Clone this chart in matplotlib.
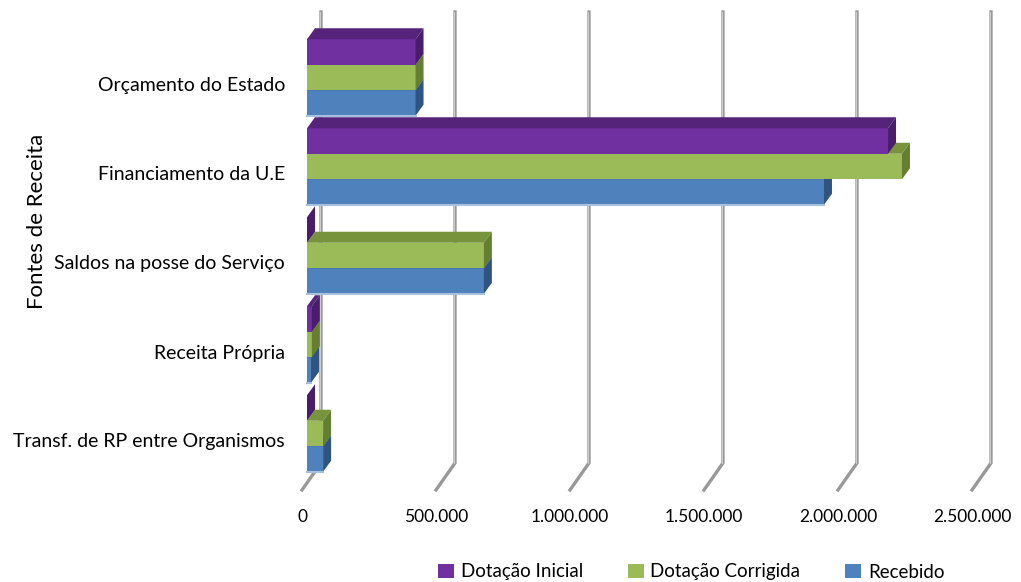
import matplotlib.pyplot as plt
from matplotlib.patches import Polygon, Patch
import numpy as np

plt.rcParams['font.family'] = ['Lato', 'DejaVu Sans']

categories = ["Orçamento do Estado", "Financiamento da U.E",
              "Saldos na posse do Serviço", "Receita Própria",
              "Transf. de RP entre Organismos"]
series_names = ["Dotação Inicial", "Dotação Corrigida", "Recebido"]
dot_inicial = [405000, 2168000, 0, 18000, 0]
dot_corrigida = [405000, 2220000, 660000, 18000, 60000]
recebido = [405000, 1929000, 660000, 15000, 60000]
xticks = [0, 500000, 1000000, 1500000, 2000000, 2500000]
xtick_labels = ["0", "500.000", "1.000.000", "1.500.000", "2.000.000", "2.500.000"]

front = ["#7030A0", "#9BBB59", "#4F81BD"]
top = ["#55237A", "#77933C", "#3B6396"]
side = ["#4A1D6C", "#647F32", "#2E5482"]

W, H = 1021, 582
fig = plt.figure(figsize=(W / 100, H / 100), dpi=100)

# axes in pixel space: 134 px per 500k, front zero at x=307
ppu = 134 / 500000
ax_l, ax_r, ax_t, ax_b = 280, 1010, 5, 505
ax = fig.add_axes([ax_l / W, 1 - ax_b / H, (ax_r - ax_l) / W, (ax_b - ax_t) / H])
x0 = 307
ax.set_xlim(-(x0 - ax_l) / ppu, (ax_r - x0) / ppu)
sp = 89.0
yc0 = 77.5 + 4 * sp
ax.set_ylim((yc0 - ax_b) / sp, (yc0 - ax_t) / sp)
ax.axis('off')

def px_x(p):
    return p / ppu

def px_y(p):
    return p / sp

# floor / gridlines
g_back = px_x(14)
g_foot = px_x(-5)
y_top = (yc0 - 12) / sp
y_back = (yc0 - 463) / sp
y_front = (yc0 - 490) / sp
for v, lab in zip(xticks, xtick_labels):
    ax.plot([v + g_back, v + g_back, v + g_foot], [y_top, y_back, y_front],
            color="#999999", lw=2.4, solid_joinstyle='miter', zorder=1)
    ax.plot([v + g_back - px_x(0.8), v + g_back - px_x(0.8)], [y_top, y_back],
            color="#cfcfcf", lw=0.7, zorder=1)
    ax.text(v + g_foot, (yc0 - 517) / sp, lab,
            ha='center', va='center', fontsize=12.5)

bh = 25.5 / sp
dx = px_x(8)
dy = px_y(11)
series = [dot_inicial, dot_corrigida, recebido]
ypos = np.arange(len(categories))[::-1]

# draw bottom series first so upper ones overlap
z = 2
for s in [2, 1, 0]:
    vals = series[s]
    offs = (1 - s) * bh
    for i, v in enumerate(vals):
        yb = ypos[i] + offs - bh / 2
        yt = yb + bh
        ax.barh(yb, v, height=bh, left=0, align='edge', color=front[s],
                edgecolor='none', zorder=z)
        ax.add_patch(Polygon([(0, yt), (v, yt), (v + dx, yt + dy), (dx, yt + dy)],
                             closed=True, fc=top[s], ec='none', zorder=z))
        ax.add_patch(Polygon([(v, yb), (v + dx, yb + dy), (v + dx, yt + dy), (v, yt)],
                             closed=True, fc=side[s], ec='none', zorder=z))
        if s == 2:
            ax.plot([0, v], [yb, yb], color="#A7C0DE", lw=1.5, zorder=z)
    z += 1

for i, c in enumerate(categories):
    ax.text(px_x(-22), ypos[i] - px_y(8.5), c, ha='right', va='center',
            fontsize=14)

fig.text(37 / W, 1 - 221 / H, "Fontes de Receita", rotation=90,
         ha='center', va='center', fontsize=16)

handles = [Patch(facecolor=front[k], edgecolor='none') for k in range(3)]
fig.legend(handles, series_names, loc='center', bbox_to_anchor=(0.677, 1 - 572 / H),
           ncol=3, frameon=False, fontsize=13.5, handlelength=0.85, handleheight=0.85,
           handletextpad=0.35, columnspacing=2.4)

fig.savefig("out.png", dpi=100)
